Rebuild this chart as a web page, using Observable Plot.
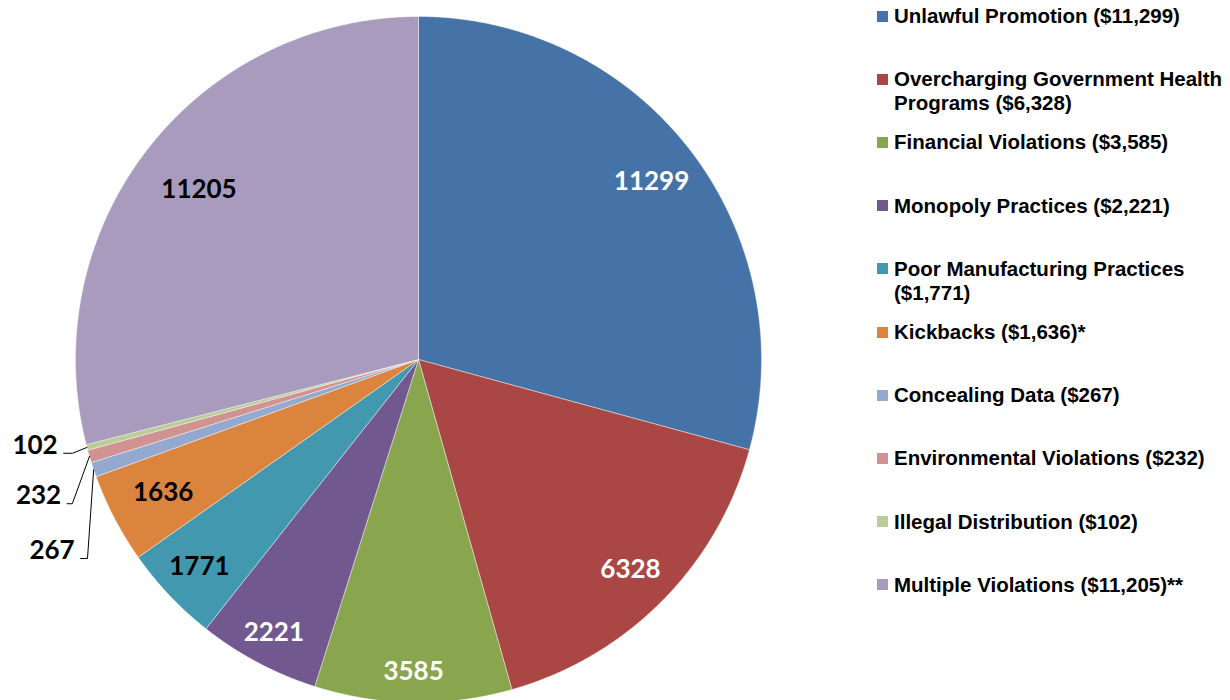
<!DOCTYPE html>
<html>
<head>
<meta charset="utf-8">
<script src="https://cdn.jsdelivr.net/npm/d3@7"></script>
<script src="https://cdn.jsdelivr.net/npm/@observablehq/plot@0.6"></script>
<style>
  html, body { margin: 0; padding: 0; background: #fff; }
  #wrap { position: relative; width: 1230px; height: 700px; overflow: hidden; background: #fff; }
  #chart { position: absolute; left: 0; top: 0; }
  #legend { position: absolute; left: 877px; top: 0; width: 353px; height: 700px;
            font-family: "Liberation Sans", Arial, sans-serif; font-weight: bold; font-size: 20.5px; color: #000; }
  .item { position: absolute; left: 0; width: 353px; line-height: 24px; }
  .swatch { position: absolute; left: 0; top: 6.5px; width: 11px; height: 11px; }
  .txt { position: absolute; left: 17px; top: 0; width: 336px; }
</style>
</head>
<body>
<div id="wrap">
  <div id="chart"></div>
  <div id="legend"></div>
</div>
<script>
// ---- data ----
const names = [
  "Unlawful Promotion",
  "Overcharging Government Health Programs",
  "Financial Violations",
  "Monopoly Practices",
  "Poor Manufacturing Practices",
  "Kickbacks",
  "Concealing Data",
  "Environmental Violations",
  "Illegal Distribution",
  "Multiple Violations"
];
const values = [11299, 6328, 3585, 2221, 1771, 1636, 267, 232, 102, 11205];
const notes = ["", "", "", "", "", "*", "", "", "", "**"];

// ---- styles ----
const colors = ["#4572A7", "#AA4643", "#89A54E", "#71588F", "#4198AF",
                "#DB843D", "#93A9CF", "#D19392", "#B9CD96", "#A99BBD"];
const labelFill = ["white", "white", "white", "white", "black",
                   "black", "black", "black", "black", "black"];

// ---- label layout (radius units) ----
// inside labels: radial distance of the label along the slice's mid angle
const labelRadius = [0.855, 0.87, 0.91, 0.90, 0.88, 0.84, null, null, null, 0.81];
// outside labels: elbow offset from slice edge, and horizontal leader length
const leaderOffset = {
  6: {dx: -0.018, dy: -0.259, len: 0.020},
  7: {dx: -0.050, dy: -0.138, len: 0.015},
  8: {dx: -0.042, dy: -0.017, len: 0.026}
};

const data = names.map((n, i) => ({name: n, value: values[i], i}));
const arcs = d3.pie().sort(null).value(d => d.value)(data);

// slice polygons in unit space (0 at 12 o'clock, clockwise)
const slicePts = [];
arcs.forEach(a => {
  const name = a.data.name;
  slicePts.push({name, x: 0, y: 0});
  const n = Math.max(2, Math.ceil((a.endAngle - a.startAngle) / 0.004));
  for (let k = 0; k <= n; k++) {
    const t = a.startAngle + (a.endAngle - a.startAngle) * k / n;
    slicePts.push({name, x: Math.sin(t), y: Math.cos(t)});
  }
  slicePts.push({name, x: 0, y: 0});
});

// inside labels
const insideLabels = arcs.filter(a => labelRadius[a.data.i] != null).map(a => {
  const m = (a.startAngle + a.endAngle) / 2, r = labelRadius[a.data.i];
  return {text: String(a.data.value), x: r * Math.sin(m), y: r * Math.cos(m), fill: labelFill[a.data.i]};
});

// outside labels with leader lines
const leaderPts = [];
const outsideLabels = [];
arcs.forEach(a => {
  const o = leaderOffset[a.data.i];
  if (!o) return;
  const m = (a.startAngle + a.endAngle) / 2;
  const ex = Math.sin(m), ey = Math.cos(m);
  const bx = ex + o.dx, by = ey + o.dy;
  const hx = bx - o.len;
  leaderPts.push({id: a.data.i, x: ex, y: ey});
  leaderPts.push({id: a.data.i, x: bx, y: by});
  leaderPts.push({id: a.data.i, x: hx, y: by});
  outsideLabels.push({text: String(a.data.value), x: hx, y: by});
});

const labelFont = {fontFamily: "Lato, 'Open Sans', sans-serif", fontWeight: "bold", fontSize: 26};

const chart = Plot.plot({
  width: 860,
  height: 700,
  margin: 0,
  style: {background: "white", overflow: "hidden"},
  x: {domain: [-1, 1], range: [75, 761], axis: null},
  y: {domain: [-1, 1], range: [702, 16], axis: null},
  color: {domain: names, range: colors},
  marks: [
    Plot.line(slicePts, {x: "x", y: "y", z: "name", fill: "name", stroke: "white",
                         strokeWidth: 0.6, strokeOpacity: 0.7, curve: "linear"}),
    Plot.line(leaderPts, {x: "x", y: "y", z: "id", stroke: "black", strokeWidth: 1, curve: "linear"}),
    Plot.text(insideLabels.filter(d => d.fill === "white"),
              {x: "x", y: "y", text: "text", fill: "white", lineAnchor: "middle", ...labelFont}),
    Plot.text(insideLabels.filter(d => d.fill === "black"),
              {x: "x", y: "y", text: "text", fill: "black", lineAnchor: "middle", ...labelFont}),
    Plot.text(outsideLabels,
              {x: "x", y: "y", text: "text", fill: "black", textAnchor: "end", lineAnchor: "middle",
               dx: -6, dy: -8, ...labelFont})
  ]
});
document.getElementById("chart").appendChild(chart);

// legend
const legend = document.getElementById("legend");
const fmt = d3.format(",");
names.forEach((n, i) => {
  const item = document.createElement("div");
  item.className = "item";
  item.style.top = (16 + 63.2 * i - 12) + "px";
  const sw = document.createElement("span");
  sw.className = "swatch";
  sw.style.background = colors[i];
  const tx = document.createElement("span");
  tx.className = "txt";
  tx.textContent = `${n} ($${fmt(values[i])})${notes[i]}`;
  item.appendChild(sw);
  item.appendChild(tx);
  legend.appendChild(item);
});
</script>
</body>
</html>
